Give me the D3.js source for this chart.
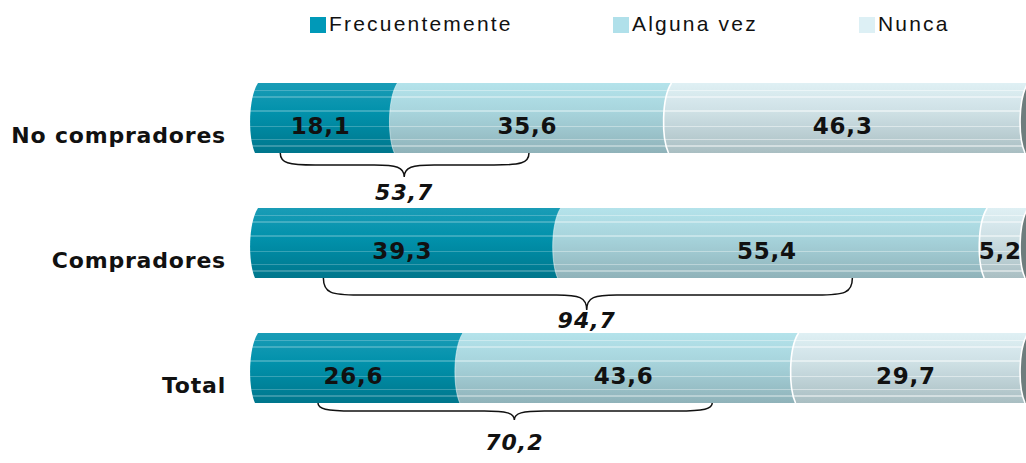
<!DOCTYPE html>
<html>
<head>
<meta charset="utf-8">
<script src="https://cdn.jsdelivr.net/npm/d3@7"></script>
<style>
  body { margin: 0; background: #fff; }
  svg { display: block; }
</style>
</head>
<body>
<div id="chart"></div>
<script>
// datos del grafico
var categories = ['No compradores', 'Compradores', 'Total'];
var series = ['Frecuentemente', 'Alguna vez', 'Nunca'];
var frecuentemente = [18.1, 39.3, 26.6];
var algunaVez = [35.6, 55.4, 43.6];
var nunca = [46.3, 5.2, 29.7];
var sumas = [53.7, 94.7, 70.2];
// llaves: inicio, punta, fin (en % del eje)
var llaveInicio = [3.8, 9.4, 8.7];
var llavePunta = [19.9, 43.6, 34.2];
var llaveFin = [36.1, 78.1, 59.9];

var width = 1026, height = 463;
var fmt = function(v) { return v.toFixed(1).replace('.', ','); };

// colores de cada serie: arriba, medio, abajo
var seriesColor = [
    ['#1a9cb6', '#0091ab', '#00768c'],
    ['#b4e3eb', '#a6d3db', '#8fb2b9'],
    ['#dff0f4', '#cddfe4', '#a9bec2']
];
var stripeAlpha = [0.22, 0.35, 0.45];
var legendColor = ['#0099b8', '#b0e0ea', '#ddf0f5'];
var capColor = '#6e7d7d';

var svg = d3.select('#chart').append('svg')
    .attr('width', width)
    .attr('height', height);

var x = d3.scaleLinear().domain([0, 100]).range([251, 1021]);
var y = d3.scaleBand().domain(categories).range([83, 403]).paddingInner(0.44);
var bh = y.bandwidth();

// degradados con franjas horizontales
var defs = svg.append('defs');
var stripes = [0.11, 0.2, 0.4, 0.62, 0.81, 0.9];
series.forEach(function(s, i) {
    var c = seriesColor[i];
    var base = d3.scaleLinear().domain([0, 0.45, 1]).range(c);
    var g = defs.append('linearGradient')
        .attr('id', 'grad' + i)
        .attr('x1', 0).attr('y1', 0).attr('x2', 0).attr('y2', 1);
    var stops = [[0, base(0)]];
    stripes.forEach(function(f) {
        var light = d3.interpolateRgb(base(f), '#ffffff')(stripeAlpha[i]);
        stops.push([f - 0.008, base(f - 0.008)], [f - 0.008, light], [f + 0.008, light], [f + 0.008, base(f + 0.008)]);
    });
    stops.push([1, base(1)]);
    stops.forEach(function(st) {
        g.append('stop').attr('offset', st[0]).attr('stop-color', st[1]);
    });
});

// forma de cada segmento con el borde izquierdo curvo
function leftEdge(x0, top) {
    var bot = top + bh;
    return 'M' + (x0 + 7) + ',' + top +
        'C' + (x0 - 3) + ',' + (top + bh * 0.22) + ' ' + (x0 - 3) + ',' + (bot - bh * 0.22) + ' ' + (x0 + 4) + ',' + bot;
}
function segPath(x0, x1, top) {
    var bot = top + bh;
    return leftEdge(x0, top) + 'L' + (x1 + 10) + ',' + bot + 'L' + (x1 + 10) + ',' + top + 'Z';
}

var stack = d3.stack().keys([0, 1, 2]).value(function(d, k) { return d[k]; });
var rows = categories.map(function(c, i) { return [frecuentemente[i], algunaVez[i], nunca[i]]; });
var stacked = stack(rows);

var bars = svg.append('g');
stacked.forEach(function(layer, k) {
    layer.forEach(function(d, i) {
        var top = y(categories[i]);
        bars.append('path')
            .attr('d', segPath(x(d[0]), x(d[1]), top))
            .attr('fill', 'url(#grad' + k + ')');
        if (k > 0) {
            bars.append('path')
                .attr('d', leftEdge(x(d[0]), top))
                .attr('fill', 'none')
                .attr('stroke', '#fff')
                .attr('stroke-width', k == 2 ? 1.6 : 0.8)
                .attr('stroke-opacity', k == 2 ? 1 : 0.6);
        }
    });
});
// tapa final oscura
categories.forEach(function(c) {
    var top = y(c);
    bars.append('path').attr('d', segPath(x(100), width + 20, top)).attr('fill', capColor);
    bars.append('path').attr('d', leftEdge(x(100), top))
        .attr('fill', 'none').attr('stroke', '#fff').attr('stroke-width', 1.6);
});

// etiquetas de valores
var labels = svg.append('g')
    .style('font-family', 'DejaVu Sans, Verdana, sans-serif')
    .style('font-weight', 'bold')
    .style('font-size', '23px')
    .style('letter-spacing', '0.8px')
    .attr('fill', '#111');
stacked.forEach(function(layer) {
    layer.forEach(function(d, i) {
        labels.append('text')
            .attr('x', (x(d[0]) + x(d[1])) / 2)
            .attr('y', y(categories[i]) + 51)
            .attr('text-anchor', 'middle')
            .text(fmt(d[1] - d[0]));
    });
});

// etiquetas de categorias
svg.append('g').selectAll('text')
    .data(categories)
    .enter()
    .append('text')
    .attr('x', 226)
    .attr('y', function(d) { return y(d) + 60; })
    .attr('text-anchor', 'end')
    .style('font-family', 'DejaVu Sans, Verdana, sans-serif')
    .style('font-weight', 'bold')
    .style('font-size', '22px')
    .style('letter-spacing', '0.8px')
    .attr('fill', '#111')
    .text(function(d) { return d; });

// llaves con la suma
var braceMid = [12, 17, 8];
var braceTip = [24, 32, 17];
var braceLabel = [47, 50, 47];
var braces = svg.append('g');
categories.forEach(function(c, i) {
    var top = y(c) + bh;
    var xs = x(llaveInicio[i]), xt = x(llavePunta[i]), xe = x(llaveFin[i]);
    var mid = top + braceMid[i], tip = top + braceTip[i];
    var p = 'M' + xs + ',' + top +
        'C' + xs + ',' + (mid - 2) + ' ' + (xs + 8) + ',' + mid + ' ' + (xs + 35) + ',' + mid +
        'L' + (xt - 30) + ',' + mid +
        'C' + (xt - 8) + ',' + mid + ' ' + xt + ',' + (mid + 2) + ' ' + xt + ',' + tip +
        'C' + xt + ',' + (mid + 2) + ' ' + (xt + 8) + ',' + mid + ' ' + (xt + 30) + ',' + mid +
        'L' + (xe - 35) + ',' + mid +
        'C' + (xe - 8) + ',' + mid + ' ' + xe + ',' + (mid - 2) + ' ' + xe + ',' + top;
    braces.append('path')
        .attr('d', p)
        .attr('fill', 'none')
        .attr('stroke', '#111')
        .attr('stroke-width', 1.5);
    braces.append('text')
        .attr('x', xt)
        .attr('y', top + braceLabel[i])
        .attr('text-anchor', 'middle')
        .style('font-family', 'DejaVu Sans, Verdana, sans-serif')
        .style('font-weight', 'bold')
        .style('font-style', 'italic')
        .style('font-size', '22px')
        .style('letter-spacing', '1px')
        .attr('fill', '#111')
        .text(fmt(sumas[i]));
});

// leyenda
var legendX = [310, 613, 859];
var legend = svg.append('g');
series.forEach(function(s, i) {
    legend.append('rect')
        .attr('x', legendX[i]).attr('y', 17)
        .attr('width', 16).attr('height', 16)
        .attr('fill', legendColor[i]);
    legend.append('text')
        .attr('x', legendX[i] + 19).attr('y', 31)
        .style('font-family', 'Liberation Sans, Arial, sans-serif')
        .style('font-size', '21px')
        .style('letter-spacing', '2.2px')
        .attr('fill', '#111')
        .text(s);
});
</script>
</body>
</html>
